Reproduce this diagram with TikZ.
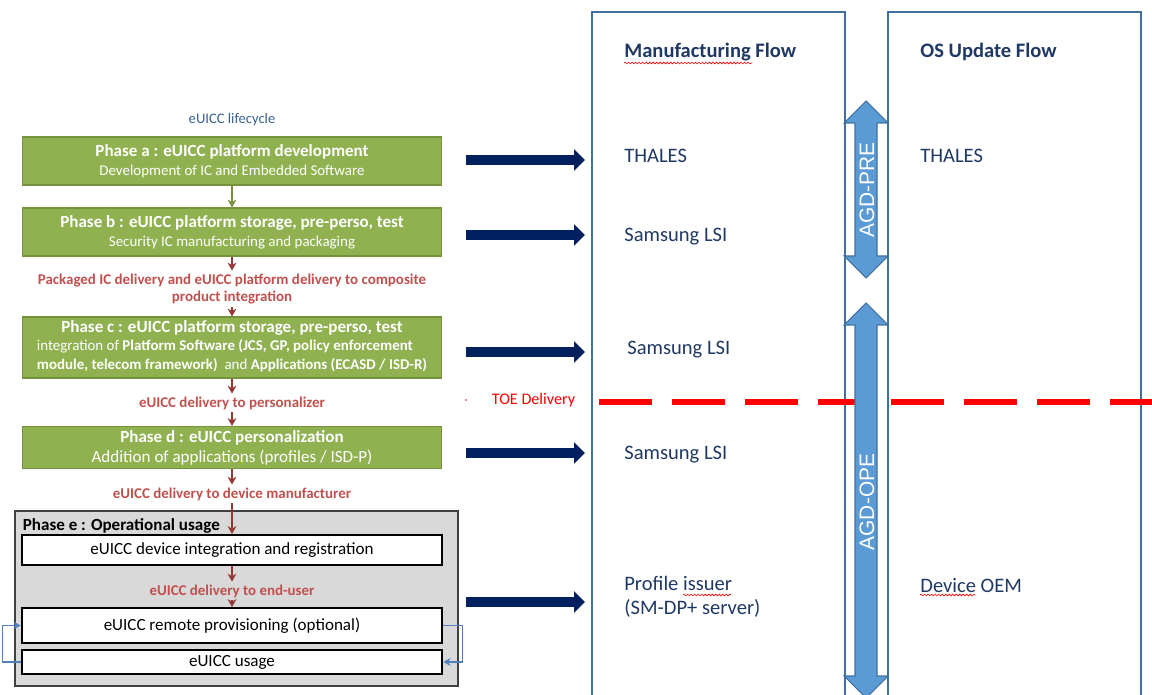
\documentclass[tikz,border=0pt]{standalone}
\usepackage{fontspec}
\setmainfont{Carlito}
\newfontfamily\agdfont{Liberation Sans}
\usepackage{xcolor}
\usetikzlibrary{arrows.meta}
\usetikzlibrary{positioning,decorations.pathmorphing}

\definecolor{phasegreen}{RGB}{143,177,80}
\definecolor{phaseedge}{RGB}{118,146,60}
\definecolor{delivred}{RGB}{192,80,77}
\definecolor{delivdark}{RGB}{149,55,53}
\definecolor{navy}{RGB}{0,32,96}
\definecolor{flowtext}{RGB}{31,56,100}
\definecolor{flowedge}{RGB}{65,113,156}
\definecolor{agdfill}{RGB}{91,155,213}
\definecolor{loopblue}{RGB}{79,129,189}
\definecolor{lifeblue}{RGB}{54,96,146}
\definecolor{opgray}{RGB}{217,217,217}

\begin{document}
\begin{tikzpicture}[x=0.02cm,y=-0.02cm]
  \tikzset{phase/.style = {draw=phaseedge, fill=phasegreen, line width=0.6pt, minimum width=8.4cm, align=center, text=white, inner sep=0pt, font=\fontsize{8.5}{10.8}\selectfont}}
  \tikzset{opbox/.style = {draw=black, fill=white, line width=1.1pt, minimum width=8.42cm, inner sep=0pt, font=\fontsize{9.7}{11}\selectfont}}
  \tikzset{deliv/.style = {text=delivred, align=center, inner sep=1.5pt, font=\bfseries\fontsize{8.5}{10.2}\selectfont}}
  \tikzset{delivarr/.style = {draw=delivdark, line width=0.8pt, -{Stealth[length=4.5pt,width=5pt]}}}
  \tikzset{greenarr/.style = {draw=phaseedge, line width=0.8pt, -{Stealth[length=4.5pt,width=5pt]}}}
  \tikzset{bigarrow/.style = {draw=navy, line width=0.2cm, -{Triangle[length=0.22cm,width=0.42cm]}}}
  \tikzset{flow/.style = {anchor=west, text=flowtext, inner sep=0pt, align=left, font=\fontsize{11.7}{13.6}\selectfont}}
  \tikzset{flowhead/.style = {flow, font=\bfseries\fontsize{11.7}{13.6}\selectfont}}
  \tikzset{flowbox/.style = {draw=flowedge, line width=0.8pt, minimum width=5.06cm, minimum height=14cm, inner sep=0pt}}
  \tikzset{agd/.style = {draw=flowedge, fill=agdfill, line width=0.6pt}}
  \tikzset{agdlabel/.style = {text=white, inner sep=0pt, rotate=90, font=\agdfont\fontsize{11.9}{13}\selectfont}}
  \tikzset{retry/.style = {draw=loopblue, line width=0.9pt, -{Stealth[length=4pt,width=4.5pt]}}}
  \tikzset{toe/.style = {draw=red, line width=0.12cm, dash pattern=on 1.06cm off 0.4cm}}
  \tikzset{spell/.style = {draw=red, line width=0.35pt, decorate, decoration={snake, amplitude=0.5pt, segment length=2pt}}}

  \useasboundingbox (0,0) rectangle (1152,695);

  % lifecycle column
  \node[text=lifeblue, inner sep=0pt, font=\fontsize{8.3}{10}\selectfont] (life) at (232,120) {eUICC lifecycle};
  \node[phase, minimum height=0.96cm] (pa) at (232,161) {{\bfseries\fontsize{9.7}{10.8}\selectfont Phase a : eUICC platform development}\\Development of IC and Embedded Software};
  \node[phase, minimum height=0.96cm] (pb) at (232,232) {{\bfseries\fontsize{9.7}{10.8}\selectfont Phase b : eUICC platform storage, pre-perso, test}\\Security IC manufacturing and packaging};
  \node[deliv] (lab1) at (232,289) {Packaged IC delivery and eUICC platform delivery to composite\\product integration};
  \node[phase, minimum height=1.22cm, font=\fontsize{8.5}{10.5}\selectfont] (pc) at (232,347.5) {{\bfseries\fontsize{9.7}{10.5}\selectfont Phase c : eUICC platform storage, pre-perso, test}\\\begin{tabular}[t]{@{}l@{}}integration of \textbf{Platform Software (JCS, GP, policy enforcement}\\\textbf{module, telecom framework)}\ \ and \textbf{Applications (ECASD / ISD-R)}\end{tabular}};
  \node[deliv] (lab2) at (232,403) {eUICC delivery to personalizer};
  \node[phase, minimum height=0.84cm, font=\fontsize{9.7}{11.3}\selectfont] (pd) at (232,447.5) {{\bfseries Phase d : eUICC personalization}\\Addition of applications (profiles / ISD-P)};
  \node[deliv] (lab3) at (232,494) {eUICC delivery to device manufacturer};

  % phase e
  \node[draw={rgb,255:red,64;green,64;blue,64}, fill=opgray, line width=1.1pt, minimum width=8.86cm, minimum height=3.5cm, inner sep=0pt] (pe) at (236.5,598.5) {};
  \node[anchor=north west, inner sep=0pt, font=\bfseries\fontsize{9.7}{11}\selectfont] (pelab) at ([xshift=0.17cm,yshift=-0.16cm]pe.north west) {Phase e : Operational usage};
  \node[opbox, minimum height=0.6cm] (dev) at (232,550) {eUICC device integration and registration};
  \node[deliv] (lab5) at (232,591) {eUICC delivery to end-user};
  \node[opbox, minimum height=0.7cm] (prov) at (232,625.5) {eUICC remote provisioning (optional)};
  \node[opbox, minimum height=0.48cm] (usage) at (232,662) {eUICC usage};

  \draw[greenarr] (pa) -- (pb);
  \foreach \from/\to in {pb/lab1, lab1/pc, pc/lab2, lab2/pd, pd/lab3, lab3/dev, dev/lab5, lab5/prov}
    \draw[delivarr] (\from) -- (\to);

  \draw[retry] (usage.west) -- ++(-18,0) |- (prov.west);
  \draw[retry] (prov.east) -- ++(19,0) |- (usage.east);

  % flow columns
  \node[flowbox] (mfg) at (718.5,362) {};
  \node[flowbox] (osu) at (1014.5,362) {};

  \node[flowhead] (mfgt) at (624,52) {Manufacturing Flow};
  \node[flowhead] (osut) at (920,52) {OS Update Flow};
  \node[flow] (tha1) at (624,156) {THALES};
  \node[flow] (tha2) at (920,156) {THALES};
  \node[flow] (sam1) at (624,237) {Samsung LSI};
  \node[flow] (sam2) at (627,350) {Samsung LSI};
  \node[flow] (sam3) at (624,455) {Samsung LSI};
  \node[flow] (prof) at (624,597) {Profile issuer\\(SM-DP+ server)};
  \node[flow] (oem) at (920,585) {Device OEM};

  \draw[spell] (624,63) -- (752,63);
  \draw[spell] (683,595) -- (731,595);
  \draw[spell] (920,595) -- (975,595);

  % hand-over arrows
  \foreach \n/\y in {a/160, b/235, c/352, d/453, e/602}{
    \coordinate (from\n) at (466,\y);
    \coordinate (to\n) at (585,\y);
  }
  \foreach \n in {a,b,c,d,e}
    \draw[bigarrow] (from\n) -- (to\n);

  % TOE delivery
  \node[text=red, inner sep=0pt, font=\fontsize{9.2}{11}\selectfont] (toe) at (533.5,400) {TOE Delivery};
  \fill[red] (466,400) circle (0.9);
  \coordinate (toestart) at (599,402);
  \coordinate (toeend) at (1160,402);
  \draw[toe] (toestart) -- (toeend);

  % guidance arrows
  \foreach \top/\bot in {101/278, 303/698}
    \draw[agd] (866,\top) -- (888,\top+22) -- (877,\top+22) -- (877,\bot-22) -- (888,\bot-22) -- (866,\bot)
      -- (844,\bot-22) -- (855,\bot-22) -- (855,\top+22) -- (844,\top+22) -- cycle;
  \node[agdlabel] (pre) at (867,190) {AGD-PRE};
  \node[agdlabel] (ope) at (867,502) {AGD-OPE};
\end{tikzpicture}
\end{document}
